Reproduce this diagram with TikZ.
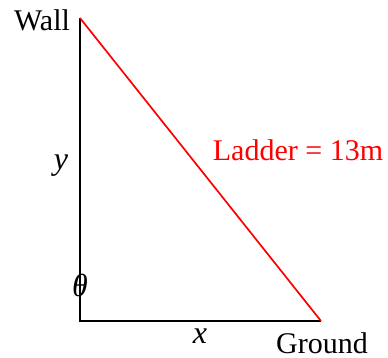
\documentclass[tikz,border=0pt]{standalone}
\usepackage{fontspec}
\setmainfont{Liberation Serif}
\usepackage{tikz}
\usetikzlibrary{positioning}
\tikzset{
  side/.style   ={line width=1pt, black},
  ladder/.style ={line width=0.85pt, red},
  lbl/.style    ={font=\fontsize{15}{18}\selectfont, inner sep=0pt},
  mlbl/.style   ={lbl, font=\fontsize{16}{18}\selectfont\itshape},
}

\begin{document}
\begin{tikzpicture}[x=0.5pt, y=-0.5pt]

\useasboundingbox (0,0) rectangle (388,358);

\coordinate (top)    at (80, 18);
\coordinate (corner) at (80, 321);
\coordinate (foot)   at (321, 321);

\draw[side]   (top) -- (corner) -- (foot);
\draw[ladder] (top) -- (foot);

\node[lbl] (wall)   at (42, 20)   {Wall};
\node[lbl] (ground) at (322, 343) {Ground};
\node[lbl, text=red] (len) at (298, 150) {Ladder = 13m};

\node[mlbl] (ylbl)  at (61, 166)  {y};
\node[mlbl] (xlbl)  at (200, 336) {x};
\node[mlbl] (theta) at (80, 285)  {θ};

\end{tikzpicture}
\end{document}
